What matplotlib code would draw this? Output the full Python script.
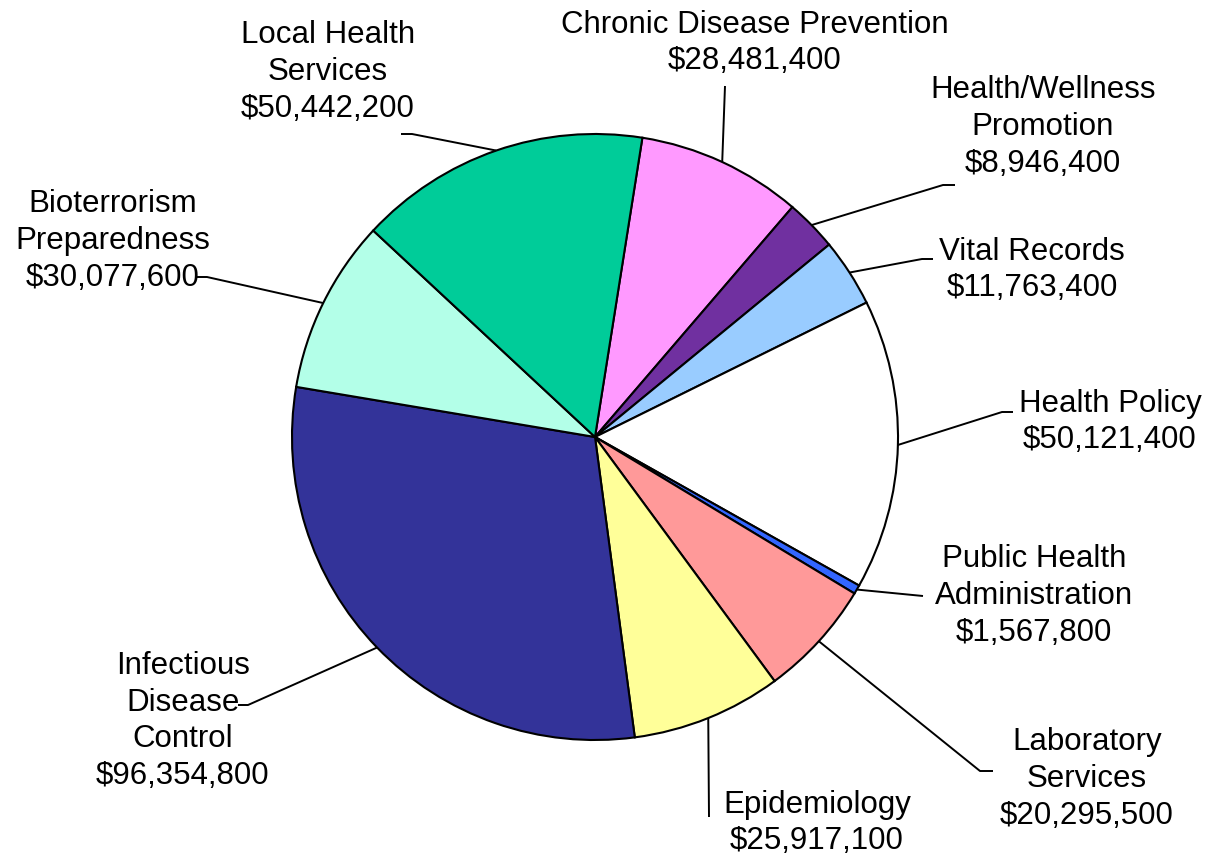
import numpy as np
import matplotlib
matplotlib.use('Agg')
import matplotlib.pyplot as plt

# budget by program, in pie order (clockwise)
programs = ['Chronic Disease Prevention', 'Health/Wellness\nPromotion', 'Vital Records',
            'Health Policy', 'Public Health\nAdministration', 'Laboratory\nServices',
            'Epidemiology', 'Infectious\nDisease\nControl', 'Bioterrorism\nPreparedness',
            'Local Health\nServices']
amounts = [28481400, 8946400, 11763400, 50121400, 1567800, 20295500,
           25917100, 96354800, 30077600, 50442200]
colors = ['#FF99FF', '#7030A0', '#99CCFF', '#FFFFFF', '#3366FF', '#FF9999',
          '#FFFF99', '#333399', '#B3FFE8', '#00CC99']

W, H = 1211, 855
# label block centres and leader paths, in pixel coords (y down)
label_pos = [(755, 43), (1043, 127), (1032, 270), (1110, 422), (1034, 596),
             (1087, 779), (817, 823), (183, 721), (113, 241), (328, 72)]
leader_pts = [[(725, 86)], [(943, 185), (955, 185)], [(922, 259), (933, 259)],
              [(1002, 412), (1013, 412)], [(923, 596)], [(980, 771), (993, 771)],
              [(709, 817)], [(248, 705), (238, 705)], [(207, 277), (197, 277)],
              [(412, 134), (401, 134)]]

plt.rcParams['font.family'] = ['Liberation Sans', 'DejaVu Sans']

fig = plt.figure(figsize=(W / 100, H / 100), dpi=100)
ax = fig.add_axes([0, 0, 1, 1])

cx, cy, r = 595, H - 437, 303
wedges, _ = ax.pie(amounts, colors=colors, startangle=81, counterclock=False,
                   center=(cx, cy), radius=r, frame=True,
                   wedgeprops=dict(edgecolor='black', linewidth=1.5))
ax.set_xlim(0, W)
ax.set_ylim(0, H)
ax.set_aspect('equal')
ax.axis('off')

for w, name, amt, pos, pts in zip(wedges, programs, amounts, label_pos, leader_pts):
    mid = np.deg2rad((w.theta1 + w.theta2) / 2)
    x0, y0 = cx + r * np.cos(mid), cy + r * np.sin(mid)
    xs = [x0] + [p[0] for p in pts]
    ys = [y0] + [H - p[1] for p in pts]
    ax.plot(xs, ys, color='black', lw=1.4, solid_capstyle='butt')
    ax.text(pos[0], H - pos[1], '{}\n${:,}'.format(name, amt), ha='center', va='center',
            fontsize=22.5, linespacing=1.29, color='black')

fig.savefig('out.png', dpi=100)
